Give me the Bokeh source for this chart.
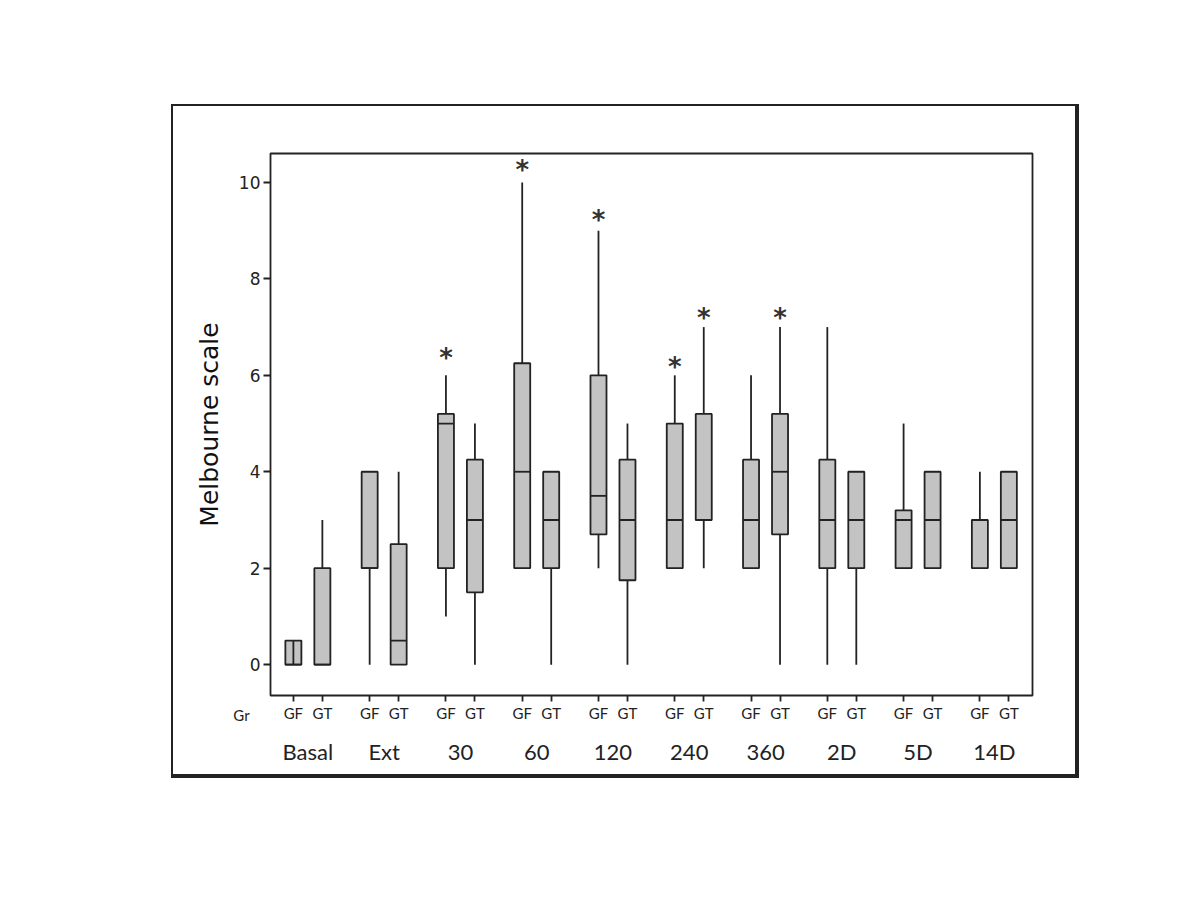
from bokeh.plotting import figure
from bokeh.models import ColumnDataSource, FixedTicker, LinearAxis, Label, Range1d
from bokeh.core.properties import value
from bokeh.embed import file_html
from bokeh.resources import INLINE

# ---------------- data ----------------
groups = ["Basal", "Ext", "30", "60", "120", "240", "360", "2D", "5D", "14D"]
series = ["GF", "GT"]

gf_low = [0, 0, 1, 2, 2, 2, 2, 0, 2, 2]
gf_q1 = [0, 2, 2, 2, 2.7, 2, 2, 2, 2, 2]
gf_med = [0, 2, 5, 4, 3.5, 3, 3, 3, 3, 3]
gf_q3 = [0.5, 4, 5.2, 6.25, 6, 5, 4.25, 4.25, 3.2, 3]
gf_high = [0.5, 4, 6, 10, 9, 6, 6, 7, 5, 4]

gt_low = [0, 0, 0, 0, 0, 2, 0, 0, 2, 2]
gt_q1 = [0, 0, 1.5, 2, 1.75, 3, 2.7, 2, 2, 2]
gt_med = [0, 0.5, 3, 3, 3, 3, 4, 3, 3, 3]
gt_q3 = [2, 2.5, 4.25, 4, 4.25, 5.2, 5.2, 4, 4, 4]
gt_high = [3, 4, 5, 4, 5, 7, 7, 4, 4, 4]

star_groups = ["30", "60", "120", "240", "240", "360"]
star_series = ["GF", "GF", "GF", "GF", "GT", "GT"]
star_levels = [6.45, 10.35, 9.3, 6.25, 7.28, 7.28]

y_ticks = [0, 2, 4, 6, 8, 10]
row_title = "Gr"

# ---------------- layout helpers ----------------
OFF = {"GF": -0.19, "GT": 0.19}
BOX_W = 0.21
LW = 1.8

xs, lo, q1, md, q3, hi = [], [], [], [], [], []
for i, g in enumerate(groups):
    for s, arrs in (("GF", (gf_low, gf_q1, gf_med, gf_q3, gf_high)),
                    ("GT", (gt_low, gt_q1, gt_med, gt_q3, gt_high))):
        xs.append(i + OFF[s])
        lo.append(arrs[0][i]); q1.append(arrs[1][i]); md.append(arrs[2][i])
        q3.append(arrs[3][i]); hi.append(arrs[4][i])

src = ColumnDataSource(dict(x=xs, lo=lo, q1=q1, md=md, q3=q3, hi=hi,
                            xl=[x - BOX_W / 2 for x in xs],
                            xr=[x + BOX_W / 2 for x in xs]))

p = figure(width=908, height=674, output_backend="svg", toolbar_location=None,
           x_range=Range1d(-0.49, 9.5), y_range=Range1d(-0.64, 10.6),
           min_border_left=97, min_border_right=49, min_border_top=47,
           min_border_bottom=85)
p.margin = (104, 0, 0, 171)
p.styles = {"border-left": "2px solid #222", "border-top": "2px solid #222",
            "border-right": "4px solid #222", "border-bottom": "4px solid #222"}

p.grid.visible = False
p.outline_line_color = "#222222"
p.outline_line_width = LW
p.background_fill_color = "white"
p.border_fill_color = "white"

# whiskers
p.segment(x0="x", y0="q3", x1="x", y1="hi", source=src, line_color="#222222", line_width=LW)
p.segment(x0="x", y0="lo", x1="x", y1="q1", source=src, line_color="#222222", line_width=LW)
# boxes
p.quad(left="xl", right="xr", bottom="q1", top="q3", source=src,
       fill_color="#c3c3c3", line_color="#222222", line_width=LW)
# medians
p.segment(x0="xl", y0="md", x1="xr", y1="md", source=src, line_color="#222222", line_width=LW)
# inner line of the Basal GF box
p.segment(x0=[xs[0]], y0=[gf_q1[0]], x1=[xs[0]], y1=[gf_q3[0]],
          line_color="#222222", line_width=LW)

# significance asterisks
sx = [groups.index(g) + OFF[s] for g, s in zip(star_groups, star_series)]
p.text(x=sx, y=star_levels, text=["*"] * len(sx), text_align="center",
       text_baseline="middle", text_font=value("DejaVu Sans"),
       text_font_size="26px", text_font_style="bold", text_color="#333333",
       y_offset=4)

# y axis
ya = p.yaxis[0]
ya.ticker = FixedTicker(ticks=y_ticks)
ya.axis_label = "Melbourne scale"
ya.axis_label_text_font = "DejaVu Sans"
ya.axis_label_text_font_size = "25px"
ya.axis_label_text_font_style = "normal"
ya.axis_label_text_color = "#111111"
ya.axis_label_standoff = 12
ya.major_label_text_font = "DejaVu Sans"
ya.major_label_text_font_size = "17px"
ya.major_label_text_color = "#222222"
ya.major_tick_in = 0
ya.major_tick_out = 7
ya.major_tick_line_width = LW
ya.major_tick_line_color = "#222222"
ya.minor_tick_line_color = None
ya.axis_line_color = None
ya.major_label_standoff = 3

# x axis with GF / GT
xa = p.xaxis[0]
xa.ticker = FixedTicker(ticks=xs)
xa.major_label_overrides = {x: series[k % 2] for k, x in enumerate(xs)}
xa.major_label_text_font = "Lato"
xa.major_label_text_font_size = "15px"
xa.major_label_text_color = "#222222"
xa.major_tick_in = 0
xa.major_tick_out = 6
xa.major_tick_line_width = LW
xa.major_tick_line_color = "#222222"
xa.minor_tick_line_color = None
xa.axis_line_color = None
xa.major_label_standoff = 2

# second x axis with group names
ga = LinearAxis(ticker=FixedTicker(ticks=list(range(len(groups)))),
                major_label_overrides={i: g for i, g in enumerate(groups)})
ga.major_label_text_font = "Lato"
ga.major_label_text_font_size = "22px"
ga.major_label_text_color = "#222222"
ga.major_tick_line_color = None
ga.minor_tick_line_color = None
ga.axis_line_color = None
ga.major_label_standoff = 7
p.add_layout(ga, "below")

# row title "Gr" (placed in a side panel so it is not clipped to the frame)
p.add_layout(Label(x=-0.87, y=-1.04, text=row_title,
                   text_font="Lato", text_font_size="15px", text_color="#222222",
                   text_align="center", text_baseline="middle"), "left")

open("out.html", "w").write(file_html(p, INLINE))
